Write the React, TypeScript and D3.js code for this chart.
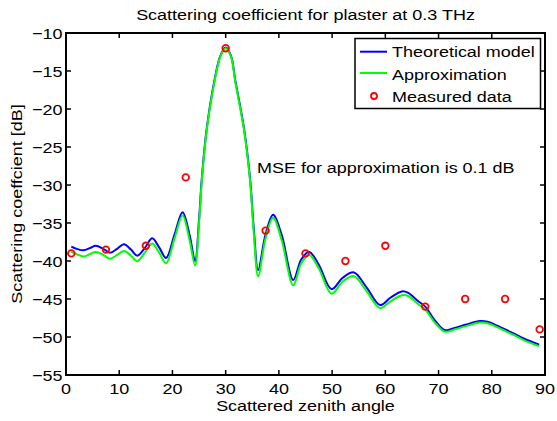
import React from "react";
import * as d3 from "d3";

const angles = [1, 2, 3.3, 4.5, 5.6, 7, 8.3, 9.6, 10.9, 12.2, 13.4, 14.8, 16.2, 17.5, 18.8, 20.4, 21.9, 23.2, 24.25, 25, 25.5, 26.4, 27.9, 29, 30, 31, 31.8, 33.5, 34.6, 35.3, 36.1, 37.5, 38.9, 40.5, 42.7, 44.2, 45.7, 47.5, 49.9, 52, 54.1, 56.5, 59, 61, 63.1, 64.3, 66, 67.5, 69.3, 71.2, 73, 75, 77.8, 79.2, 81, 82.2, 84, 86, 88.9];
const theoretical = [-38.1, -38.4, -38.6, -38.3, -38.0, -38.4, -38.9, -38.4, -37.8, -38.5, -39.3, -38.3, -37.0, -38.2, -39.6, -36.5, -33.6, -36.5, -40.0, -34.5, -29.3, -22.8, -16.2, -13.0, -11.9, -13.0, -16.2, -22.8, -29.3, -35.9, -41.2, -36.5, -33.9, -36.5, -42.5, -39.8, -38.8, -40.5, -43.7, -42.2, -41.5, -43.5, -45.8, -44.8, -44.0, -44.2, -45.2, -46.0, -47.8, -49.1, -48.8, -48.4, -47.9, -48.0, -48.5, -48.9, -49.5, -50.2, -51.0];
const approximation = [-38.8, -39.1, -39.4, -39.1, -38.8, -39.2, -39.7, -39.2, -38.7, -39.3, -40.0, -38.9, -37.7, -38.9, -40.3, -37.0, -34.0, -37.2, -40.6, -35.0, -29.6, -23.0, -16.4, -13.1, -12.0, -13.1, -16.4, -23.0, -29.6, -36.5, -42.0, -37.0, -34.3, -37.2, -43.2, -40.3, -39.2, -41.0, -44.3, -42.7, -42.0, -44.0, -46.2, -45.3, -44.5, -44.6, -45.6, -46.4, -48.1, -49.3, -49.0, -48.6, -48.1, -48.2, -48.7, -49.1, -49.7, -50.4, -51.2];
const measuredAngles = [1, 7.5, 15, 22.5, 30, 37.5, 45, 52.5, 60, 67.5, 75, 82.5, 89];
const measuredValues = [-39, -38.5, -38, -29, -12, -36, -39, -40, -38, -46, -45, -45, -49];
const xTicks = [0, 10, 20, 30, 40, 50, 60, 70, 80, 90];
const yTicks = [-10, -15, -20, -25, -30, -35, -40, -45, -50, -55];
const legendLabels = ["Theoretical model", "Approximation", "Measured data"];

const W = 557, H = 421;
const L = 66, R = 545, T = 33, B = 375;
const font = "'Liberation Sans', Arial, Helvetica, sans-serif";
const FS = 15.5;
const SX = 1.16;

function Txt({ x, y, anchor = "start", rot = 0, children }: { x: number; y: number; anchor?: string; rot?: number; children: React.ReactNode }) {
  return (
    <text transform={`translate(${x},${y}) rotate(${rot}) scale(${SX},1)`} textAnchor={anchor as any} fontSize={FS} fill="#000">
      {children}
    </text>
  );
}

export default function App() {
  const x = d3.scaleLinear().domain([0, 90]).range([L, R]);
  const y = d3.scaleLinear().domain([-55, -10]).range([B, T]);
  const line = d3
    .line<number>()
    .x((_, i) => x(angles[i]))
    .curve(d3.curveCatmullRom.alpha(0.5));
  const blueD = line.y((v) => y(v))(theoretical) || "";
  const greenD = line.y((v) => y(v))(approximation) || "";
  const tl = 5;
  return (
    <svg width={W} height={H} style={{ position: "absolute", left: 0, top: 0, background: "#fff" }} fontFamily={font}>
      <rect x={0} y={0} width={W} height={H} fill="#fff" />
      <Txt x={(L + R) / 2} y={20} anchor="middle">Scattering coefficient for plaster at 0.3 THz</Txt>
      <defs>
        <clipPath id="clip">
          <rect x={L} y={T} width={R - L} height={B - T} />
        </clipPath>
      </defs>
      <g clipPath="url(#clip)">
        <path d={blueD} fill="none" stroke="#0000ff" strokeWidth={2} />
        <path d={greenD} fill="none" stroke="#00ff00" strokeWidth={2} />
        {measuredAngles.map((a, i) => (
          <circle key={i} cx={x(a)} cy={y(measuredValues[i])} r={3.3} fill="none" stroke="#ff0000" strokeWidth={1.8} />
        ))}
      </g>
      {xTicks.map((t) => (
        <g key={"x" + t}>
          <line x1={x(t)} x2={x(t)} y1={B} y2={B - tl} stroke="#000" strokeWidth={1.5} />
          <line x1={x(t)} x2={x(t)} y1={T} y2={T + tl} stroke="#000" strokeWidth={1.5} />
          <Txt x={x(t)} y={B + 19} anchor="middle">{t}</Txt>
        </g>
      ))}
      {yTicks.map((t) => (
        <g key={"y" + t}>
          <line x1={L} x2={L + tl} y1={y(t)} y2={y(t)} stroke="#000" strokeWidth={1.5} />
          <line x1={R} x2={R - tl} y1={y(t)} y2={y(t)} stroke="#000" strokeWidth={1.5} />
          <Txt x={L - 3.5} y={y(t) + 5.5} anchor="end">{t < 0 ? "\u2212" + Math.abs(t) : t}</Txt>
        </g>
      ))}
      <rect x={L} y={T} width={R - L} height={B - T} fill="none" stroke="#000" strokeWidth={2} />
      <Txt x={(L + R) / 2} y={411} anchor="middle">Scattered zenith angle</Txt>
      <Txt x={22} y={(T + B) / 2} anchor="middle" rot={-90}>Scattering coeffcient [dB]</Txt>
      <Txt x={257} y={173}>MSE for approximation is 0.1 dB</Txt>
      <g>
        <rect x={355} y={38.5} width={185.5} height={70} fill="#fff" stroke="#000" strokeWidth={1.5} />
        <line x1={360} x2={387} y1={51.7} y2={51.7} stroke="#0000ff" strokeWidth={2} />
        <line x1={360} x2={387} y1={73} y2={73} stroke="#00ff00" strokeWidth={2} />
        <circle cx={374} cy={96} r={3} fill="none" stroke="#ff0000" strokeWidth={1.8} />
        {legendLabels.map((s, i) => (
          <Txt key={s} x={392} y={[57.3, 79.5, 101.7][i]}>{s}</Txt>
        ))}
      </g>
    </svg>
  );
}
